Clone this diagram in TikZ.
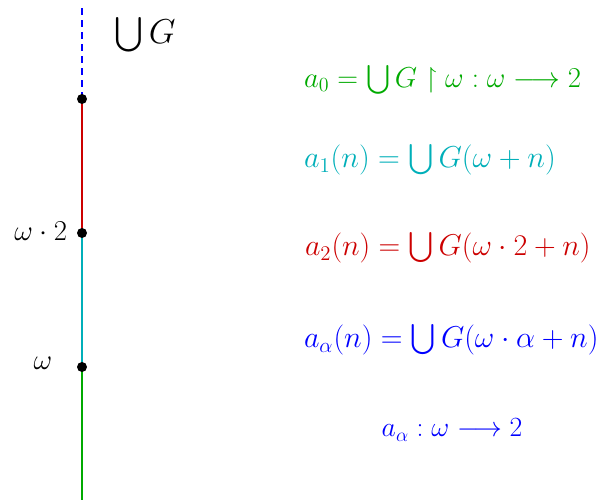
\documentclass[tikz,border=0pt]{standalone}
\usepackage{amsmath,amssymb}
\usepackage{graphicx}
\usetikzlibrary{positioning}
\definecolor{segGreen}{RGB}{0,170,0}
\definecolor{segCyan}{RGB}{0,175,185}
\definecolor{segRed}{RGB}{204,0,0}
\newcommand{\grow}[2]{\scalebox{#1}{#2}}
\tikzset{
  dot/.style={circle,fill=black,inner sep=0pt,minimum size=6pt},
  ordlab/.style={font=\LARGE},
  eqn/.style={anchor=west,inner sep=0pt,font=\LARGE}
}

\begin{document}
\begin{tikzpicture}[x=0.6pt,y=0.6pt,line width=1.2pt]
  \useasboundingbox (0,0) rectangle (599,500);
  % points on the ordinal line
  \coordinate (bot) at (82,0);
  \coordinate (om) at (82,133);
  \coordinate (om2) at (82,267);
  \coordinate (omA) at (82,401);
  \coordinate (tip) at (82,495);
  % coloured pieces
  \draw[segGreen] (bot) -- (om);
  \draw[segCyan] (om) -- (om2);
  \draw[segRed] (om2) -- (omA);
  \draw[blue,dash pattern=on 4.2pt off 3pt] (omA) -- (tip);
  \foreach \p in {om,om2,omA}
    \node[dot] (d\p) at (\p) {};
  % labels on the line
  \node[ordlab,anchor=east,inner sep=0pt] (lom2) at (68,269) {$\omega\cdot 2$};
  \node[ordlab] (lom) at (43,137) {$\omega$};
  \node[font=\huge,inner sep=0pt] (uG) at (145,465) {$\bigcup G$};
  % the functions
  \node[eqn,segGreen] (a0) at (303,420) {$a_0=\bigcup G\restriction\omega:\omega\longrightarrow 2$};
  \node[eqn,segCyan] (a1) at (303,340) {\grow{1.05}{$a_1(n)=\bigcup G(\omega+n)$}};
  \node[eqn,segRed] (a2) at (304,252) {\grow{1.043}{$a_2(n)=\bigcup G(\omega\cdot 2+n)$}};
  \node[eqn,blue] (aA) at (303,160) {\grow{1.046}{$a_\alpha(n)=\bigcup G(\omega\cdot\alpha+n)$}};
  \node[eqn,blue,anchor=center] (aAm) at (452,70) {\grow{0.965}{$a_\alpha:\omega\longrightarrow 2$}};
\end{tikzpicture}
\end{document}
